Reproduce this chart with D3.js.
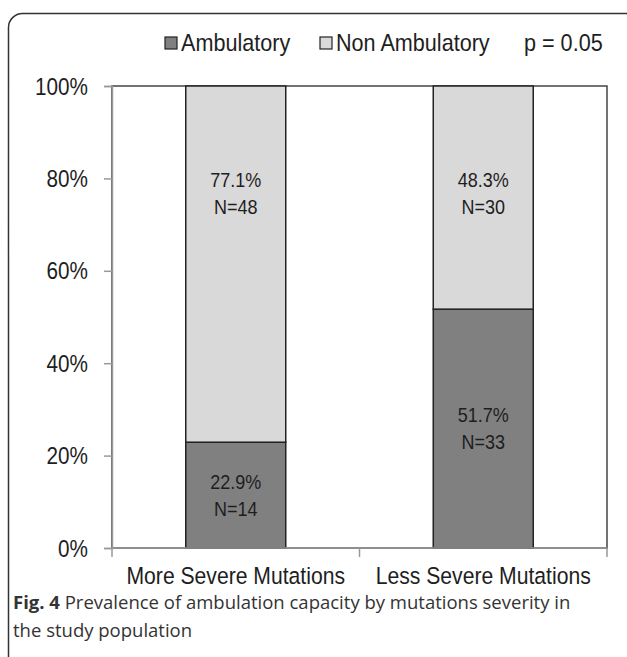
<!DOCTYPE html>
<html>
<head>
<meta charset="utf-8">
<script src="https://cdn.jsdelivr.net/npm/d3@7"></script>
<style>
  html, body { margin: 0; padding: 0; background: #fff; }
  svg { display: block; }
</style>
</head>
<body>
<svg id="chart" width="627" height="657"></svg>
<script>
// Mutation severity groups
const categories = ["More Severe Mutations", "Less Severe Mutations"];
// Share of each group (%)
const ambulatory = [22.9, 51.7];
const nonAmbulatory = [77.1, 48.3];
// Patient counts
const nAmbulatory = [14, 33];
const nNonAmbulatory = [48, 30];
const yTicks = [0, 20, 40, 60, 80, 100];
const seriesNames = ["Ambulatory", "Non Ambulatory"];
const pLabel = "p = 0.05";

const colors = { amb: "#808080", non: "#d9d9d9", edge: "#222", text: "#1e1e1e" };
const chartFont = "'Liberation Sans', Arial, sans-serif";
const SX = 0.9; // slightly condensed chart lettering

const svg = d3.select("#chart");

// Place a condensed text at (x, y)
function ctext(parent, x, y, size, anchor) {
  return parent.append("text")
    .attr("transform", `translate(${x},${y}) scale(${SX},1)`)
    .attr("text-anchor", anchor || "start")
    .attr("font-family", chartFont).attr("font-size", size)
    .attr("fill", colors.text);
}

// Rounded frame around the figure (runs past the right and bottom edge)
svg.append("rect")
  .attr("x", 8.5).attr("y", 13.5)
  .attr("width", 660).attr("height", 700)
  .attr("rx", 14).attr("ry", 14)
  .attr("fill", "none").attr("stroke", "#333").attr("stroke-width", 1.5);

const plot = { left: 112, right: 607, top: 86, bottom: 548 };

const x = d3.scaleBand().domain(categories).range([plot.left, plot.right]).padding(0);
const barW = x.bandwidth() * 0.404;
const y = d3.scaleLinear().domain([0, 100]).range([plot.bottom, plot.top]);

// Plot area border
svg.append("rect")
  .attr("x", plot.left).attr("y", plot.top)
  .attr("width", plot.right - plot.left).attr("height", plot.bottom - plot.top)
  .attr("fill", "#fff").attr("stroke", "#444").attr("stroke-width", 1.5);

const rows = categories.map((c, i) => ({
  cat: c, amb: ambulatory[i], non: nonAmbulatory[i],
  nAmb: nAmbulatory[i], nNon: nNonAmbulatory[i]
}));

const g = svg.append("g");

// Ambulatory segment (bottom)
g.selectAll("rect.amb").data(rows).join("rect")
  .attr("class", "amb")
  .attr("x", d => x(d.cat) + (x.bandwidth() - barW) / 2)
  .attr("width", barW)
  .attr("y", d => y(d.amb))
  .attr("height", d => y(0) - y(d.amb))
  .attr("fill", colors.amb).attr("stroke", colors.edge).attr("stroke-width", 1.5);

// Non-ambulatory segment (stacked on top)
g.selectAll("rect.non").data(rows).join("rect")
  .attr("class", "non")
  .attr("x", d => x(d.cat) + (x.bandwidth() - barW) / 2)
  .attr("width", barW)
  .attr("y", d => y(d.amb + d.non))
  .attr("height", d => y(d.amb) - y(d.amb + d.non))
  .attr("fill", colors.non).attr("stroke", colors.edge).attr("stroke-width", 1.5);

// Two-line segment labels: percentage and count
const lineGap = 27;
rows.forEach(d => {
  const cx = x(d.cat) + x.bandwidth() / 2;
  // non-ambulatory label sits near the top of the column
  const topMid = y(100) + 107;
  ctext(g, cx, topMid - lineGap / 2 + 7, 20, "middle").text(d.non.toFixed(1) + "%");
  ctext(g, cx, topMid + lineGap / 2 + 7, 20, "middle").text("N=" + d.nNon);
  // ambulatory label centred in its segment
  const botMid = (y(0) + y(d.amb)) / 2;
  ctext(g, cx, botMid - lineGap / 2 + 7, 20, "middle").text(d.amb.toFixed(1) + "%");
  ctext(g, cx, botMid + lineGap / 2 + 7, 20, "middle").text("N=" + d.nAmb);
});

// Y axis
const yAxis = svg.append("g")
  .attr("transform", `translate(${plot.left},0)`)
  .call(d3.axisLeft(y).tickValues(yTicks).tickFormat(d => d + "%").tickSize(8).tickPadding(0));
yAxis.select(".domain").attr("stroke", "#999").attr("stroke-width", 1.5);
yAxis.selectAll(".tick line").attr("stroke", "#999").attr("stroke-width", 1.5);
yAxis.selectAll(".tick text")
  .attr("x", null).attr("dy", null)
  .attr("transform", `translate(-24,8) scale(${SX},1)`)
  .attr("font-family", chartFont).attr("font-size", 23).attr("fill", colors.text);

// X axis with ticks on category boundaries
const xAxisG = svg.append("g").attr("transform", `translate(0,${plot.bottom})`);
xAxisG.append("line")
  .attr("x1", plot.left).attr("x2", plot.right)
  .attr("stroke", "#999").attr("stroke-width", 1.5);
const bounds = [plot.left, ...categories.slice(1).map(c => x(c)), plot.right];
xAxisG.selectAll("line.tk").data(bounds).join("line")
  .attr("class", "tk")
  .attr("x1", d => d).attr("x2", d => d).attr("y1", 0).attr("y2", 9)
  .attr("stroke", "#999").attr("stroke-width", 1.5);
categories.forEach(c => {
  ctext(xAxisG, x(c) + x.bandwidth() / 2, 36, 23.5, "middle").text(c);
});

// Legend
const legend = svg.append("g").attr("transform", "translate(0,42)");
const legItems = [
  { name: seriesNames[0], fill: colors.amb, x: 165 },
  { name: seriesNames[1], fill: colors.non, x: 320 }
];
legItems.forEach(it => {
  legend.append("rect").attr("x", it.x).attr("y", -5).attr("width", 12).attr("height", 12)
    .attr("fill", it.fill).attr("stroke", colors.edge).attr("stroke-width", 1.2);
  ctext(legend, it.x + 16, 8.5, 24).text(it.name);
});
ctext(legend, 524, 8.5, 24).text(pLabel);

// Caption
const capFont = "'Open Sans', sans-serif";
const cap = svg.append("text")
  .attr("x", 13).attr("y", 609)
  .attr("font-family", capFont).attr("font-size", 18.5).attr("fill", "#333");
cap.append("tspan").attr("font-weight", "bold").text("Fig. 4");
cap.append("tspan").text(" Prevalence of ambulation capacity by mutations severity in");
svg.append("text")
  .attr("x", 13).attr("y", 637)
  .attr("font-family", capFont).attr("font-size", 18.5).attr("fill", "#333")
  .text("the study population");
</script>
</body>
</html>
